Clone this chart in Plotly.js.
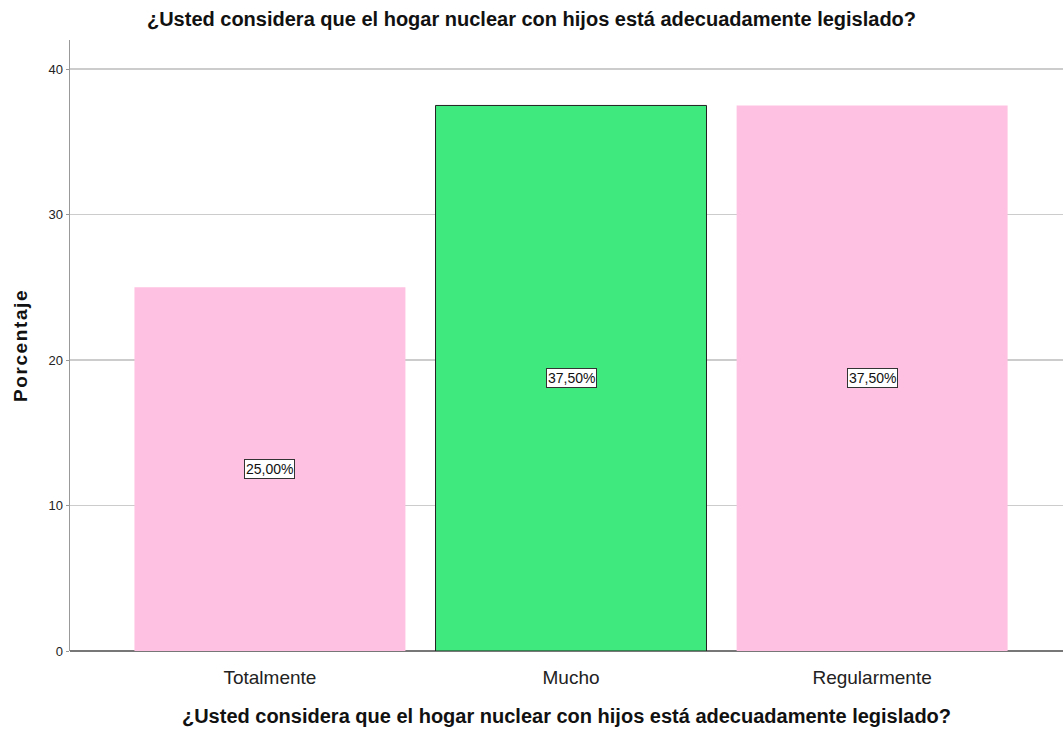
<!DOCTYPE html>
<html>
<head>
<meta charset="utf-8">
<script src="https://cdn.plot.ly/plotly-3.0.1.min.js"></script>
<style>
html,body{margin:0;padding:0;background:#fff;}
#chart{width:1063px;height:740px;}
.ytitle{letter-spacing:1.6px;}
</style>
</head>
<body>
<div id="chart"></div>
<script>
const categories = ["Totalmente", "Mucho", "Regularmente"];
const values = [25.0, 37.5, 37.5];
const valueLabels = ["25,00%", "37,50%", "37,50%"];
const barColors = ["#ffc1e1", "#40e97e", "#ffc1e1"];
const barLineWidths = [0, 1, 0];
const yTicks = [0, 10, 20, 30, 40];
const titleText = "¿Usted considera que el hogar nuclear con hijos está adecuadamente legislado?";

const sans = "'Liberation Sans', Arial, sans-serif";

const trace = {
  type: "bar",
  x: categories,
  y: values,
  width: 0.9,
  marker: { color: barColors, line: { color: "#222", width: barLineWidths } },
  hoverinfo: "none"
};

const annotations = categories.map((c, i) => ({
  x: c, y: values[i] / 2, xref: "x", yref: "y",
  text: valueLabels[i], showarrow: false,
  font: { family: sans, size: 14, color: "#111" },
  bgcolor: "#fff", bordercolor: "#333", borderwidth: 1, borderpad: 1
}));

const layout = {
  width: 1063, height: 740,
  margin: { l: 70, r: 0, t: 40, b: 89 },
  paper_bgcolor: "#fff", plot_bgcolor: "#fff",
  showlegend: false,
  title: { text: "<b>" + titleText + "</b>", x: 0.5, xanchor: "center", y: 0.984, yanchor: "top",
           font: { family: sans, size: 20, color: "#111" } },
  xaxis: {
    type: "category", range: [-0.664, 2.634],
    showgrid: false, zeroline: false, showline: false,
    ticks: "outside", ticklen: 9, tickcolor: "rgba(0,0,0,0)",
    tickfont: { family: sans, size: 19, color: "#222" },
    title: { text: "<b>" + titleText + "</b>", standoff: 22, font: { family: sans, size: 20, color: "#111" } }
  },
  yaxis: {
    range: [0, 42], tickvals: yTicks, ticktext: yTicks.map(String),
    showgrid: true, gridcolor: "#cccccc", gridwidth: 1.5,
    zeroline: true, zerolinecolor: "#777", zerolinewidth: 1.5,
    showline: true, linecolor: "#999", linewidth: 1.5,
    ticks: "outside", ticklen: 3, tickcolor: "#999",
    tickfont: { family: sans, size: 13, color: "#222" },
    title: { text: "<b>Porcentaje</b>", standoff: 16, font: { family: sans, size: 19, color: "#111" } }
  },
  annotations: annotations
};

Plotly.newPlot("chart", [trace], layout, { displayModeBar: false, staticPlot: true });
</script>
</body>
</html>
